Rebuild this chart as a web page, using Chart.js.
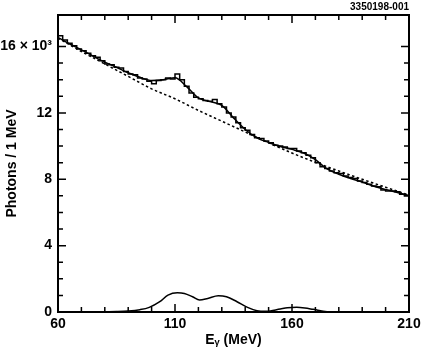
<!DOCTYPE html>
<html>
<head>
<meta charset="utf-8">
<script src="https://cdn.jsdelivr.net/npm/chart.js@4.4.1/dist/chart.umd.min.js"></script>
<style>
html, body { margin: 0; padding: 0; background: #fff; }
canvas { display: block; }
</style>
</head>
<body>
<canvas id="spectrum" width="427" height="357"></canvas>
<script>
// photon spectrum, values in units of 10^3 photons / 1 MeV
// histogram: 2 MeV bins starting at 60 MeV
const binStart = 60;
const binWidth = 2;
const histValues = [
    16.65, 16.4, 16.2, 16.05, 15.85, 15.75, 15.6, 15.45, 15.35, 15.15,
    14.95, 14.9, 14.75, 14.7, 14.5, 14.35, 14.3, 14.1, 14.05, 13.9,
    13.75, 13.95, 14.0, 14.1, 14.05, 14.35, 14.0, 13.6, 13.2, 12.95,
    12.85, 12.75, 12.7, 12.8, 12.55, 12.35, 12.0, 11.75, 11.4, 11.1,
    10.95, 10.7, 10.5, 10.45, 10.3, 10.2, 10.05, 10.0, 9.95, 9.85,
    9.85, 9.7, 9.6, 9.45, 9.3, 9.0, 8.75, 8.65, 8.5, 8.4,
    8.35, 8.2, 8.1, 8.05, 7.9, 7.8, 7.7, 7.6, 7.55, 7.35,
    7.3, 7.3, 7.25, 7.1, 7.0
];

// full fit (smooth line)
const fitE = [60, 65, 70, 75, 80, 85, 90, 95, 100, 105, 110, 115, 120, 125, 130, 135,
    140, 145, 150, 155, 160, 165, 170, 175, 180, 185, 190, 195, 200, 205, 210];
const fitV = [16.55, 16.15, 15.8, 15.42, 15.06, 14.75, 14.42, 14.15, 13.95, 14.0, 14.12,
    13.58, 12.9, 12.68, 12.45, 11.7, 11.0, 10.5, 10.22, 9.98, 9.8, 9.58, 9.18, 8.62,
    8.3, 8.05, 7.83, 7.58, 7.38, 7.2, 7.02];

// background only (dashed)
const bgE = [60, 70, 80, 90, 100, 110, 120, 130, 140, 150, 160, 170, 180, 190, 200, 210];
const bgV = [16.5, 15.7, 14.95, 14.2, 13.45, 12.85, 12.15, 11.5, 10.85, 10.2, 9.58,
    9.02, 8.5, 8.0, 7.52, 7.05];

// signal lines (bottom curve)
const sigE = [60, 70, 80, 85, 90, 95, 99, 103.5, 107, 111, 114, 117.5, 120.5, 124, 128.5,
    132, 136.5, 141, 145, 149, 155, 158, 162, 165.5, 169, 175, 180, 210];
const sigV = [0, 0, 0.02, 0.03, 0.06, 0.14, 0.28, 0.62, 1.02, 1.16, 1.12, 0.92, 0.72,
    0.82, 0.98, 0.92, 0.62, 0.28, 0.08, 0.04, 0.18, 0.25, 0.28, 0.24, 0.16, 0.02, 0, 0];

const xLabels = [60, 110, 160, 210];
const yLabels = [0, 4, 8, 12, 16];

function toPoints(xs, ys) {
    return xs.map((x, i) => ({x: x, y: ys[i]}));
}

// step points at the bin edges, last value held to the end
const histPoints = histValues.map((v, i) => ({x: binStart + i * binWidth, y: v}));
histPoints.push({x: binStart + histValues.length * binWidth, y: histValues[histValues.length - 1]});

Chart.defaults.font.family = "'Liberation Sans', Arial, sans-serif";
Chart.defaults.font.weight = 'bold';
Chart.defaults.color = '#000';

// frame with inward ticks on all four sides
const frameTicks = {
    id: 'frameTicks',
    afterDatasetsDraw(chart) {
        const {ctx, chartArea: a, scales: {x, y}} = chart;
        ctx.save();
        ctx.strokeStyle = '#000';
        ctx.lineWidth = 1.5;
        ctx.beginPath();
        x.ticks.forEach(t => {
            if (t.value % 10 !== 0) return;
            const px = x.getPixelForValue(t.value);
            const len = xLabels.includes(t.value) ? 8 : 5;
            ctx.moveTo(px, a.bottom); ctx.lineTo(px, a.bottom - len);
            ctx.moveTo(px, a.top); ctx.lineTo(px, a.top + len);
        });
        y.ticks.forEach(t => {
            if (!Number.isInteger(t.value)) return;
            const py = y.getPixelForValue(t.value);
            const len = yLabels.includes(t.value) ? 8 : 5;
            ctx.moveTo(a.left, py); ctx.lineTo(a.left + len, py);
            ctx.moveTo(a.right, py); ctx.lineTo(a.right - len, py);
        });
        ctx.stroke();
        ctx.lineWidth = 2;
        ctx.strokeRect(a.left, a.top, a.right - a.left, a.bottom - a.top);
        ctx.restore();
    }
};

const lineStyle = {pointRadius: 0, borderColor: '#000', borderWidth: 1.5, fill: false};

new Chart(document.getElementById('spectrum'), {
    type: 'line',
    data: {
        datasets: [
            Object.assign({label: 'data', data: histPoints, stepped: 'before'}, lineStyle),
            Object.assign({label: 'fit', data: toPoints(fitE, fitV), cubicInterpolationMode: 'monotone'}, lineStyle),
            Object.assign({label: 'background', data: toPoints(bgE, bgV), cubicInterpolationMode: 'monotone',
                borderDash: [2.5, 2.5]}, lineStyle),
            Object.assign({label: 'signal', data: toPoints(sigE, sigV), cubicInterpolationMode: 'monotone'}, lineStyle)
        ]
    },
    options: {
        responsive: false,
        animation: false,
        devicePixelRatio: 1,
        layout: {padding: {top: 0, right: 18, bottom: 0, left: 0}},
        plugins: {
            legend: {display: false},
            tooltip: {enabled: false},
            title: {
                display: true,
                text: '3350198-001',
                align: 'end',
                font: {size: 10, weight: 'bold'},
                padding: {top: 1, bottom: 2}
            }
        },
        scales: {
            x: {
                type: 'linear',
                min: 60,
                max: 210,
                grid: {display: false, drawTicks: false},
                border: {display: false},
                ticks: {
                    stepSize: 10,
                    autoSkip: false,
                    maxRotation: 0,
                    padding: 4,
                    font: {size: 14, weight: 'bold'},
                    callback: v => xLabels.includes(v) ? String(v) : ''
                },
                title: {
                    display: true,
                    text: 'Eᵧ (MeV)',
                    font: {size: 14, weight: 'bold'},
                    padding: {top: 0, bottom: 8}
                },
                afterFit(s) { s.height = 45; }
            },
            y: {
                min: 0,
                max: 17.9,
                grid: {display: false, drawTicks: false},
                border: {display: false},
                ticks: {
                    stepSize: 1,
                    autoSkip: false,
                    padding: 6,
                    font: {size: 14, weight: 'bold'},
                    callback: v => v === 16 ? '16 × 10³' : (yLabels.includes(v) ? String(v) : '')
                },
                title: {
                    display: true,
                    text: 'Photons / 1 MeV',
                    font: {size: 14, weight: 'bold'},
                    padding: {top: 4, bottom: 0}
                },
                afterFit(s) { s.width = 58; }
            }
        }
    },
    plugins: [frameTicks]
});
</script>
</body>
</html>
